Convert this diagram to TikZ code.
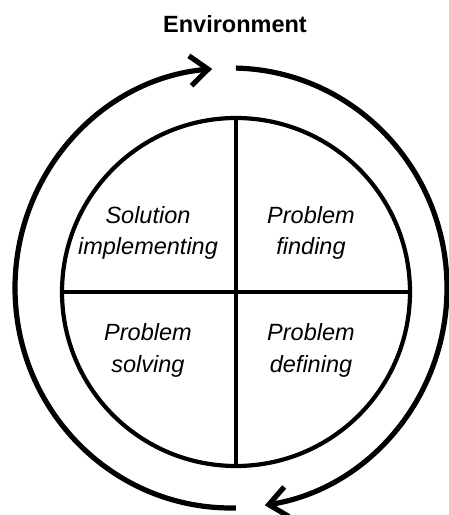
\documentclass[tikz,border=0pt]{standalone}
\usepackage{fontspec}
\setmainfont{Liberation Sans}
\usetikzlibrary{arrows.meta}

\begin{document}
\begin{tikzpicture}[x=1pt, y=1pt,
  phase/.style={align=center, font=\fontsize{23.5}{31.5}\selectfont\itshape},
  cycle/.style={line width=5.2pt,
    -{Straight Barb[length=18pt, width=30pt, line cap=butt, line join=miter]}}]
\useasboundingbox (0, 0) rectangle (449, 515);

% inner circle with its four quarters
\coordinate (c) at (236, 223);
\draw[line width=4.2pt] (c) circle[radius=174];
\draw[line width=4.2pt] (c) ++(0, 174) -- ++(0, -348)
                        (c) ++(-174, 0) -- ++(348, 0);

\node[phase] (impl)  at (148, 282)   {Solution\\implementing};
\node[phase] (find)  at (311, 282)   {Problem\\finding};
\node[phase] (solve) at (148, 164.5) {Problem\\solving};
\node[phase] (def)   at (311, 164.5) {Problem\\defining};

% outer cycle
\coordinate (o) at (231, 227);
\draw[cycle] (o) ++(271.3:216 and 220)
  arc[start angle=271.3, end angle=95, x radius=216, y radius=220];
\draw[cycle] (o) ++(88.7:216 and 220)
  arc[start angle=88.7, end angle=-81, x radius=216, y radius=220];

\node (env) at (235, 490.4) {\fontsize{23.5}{28}\selectfont\bfseries Environment};
\end{tikzpicture}
\end{document}
